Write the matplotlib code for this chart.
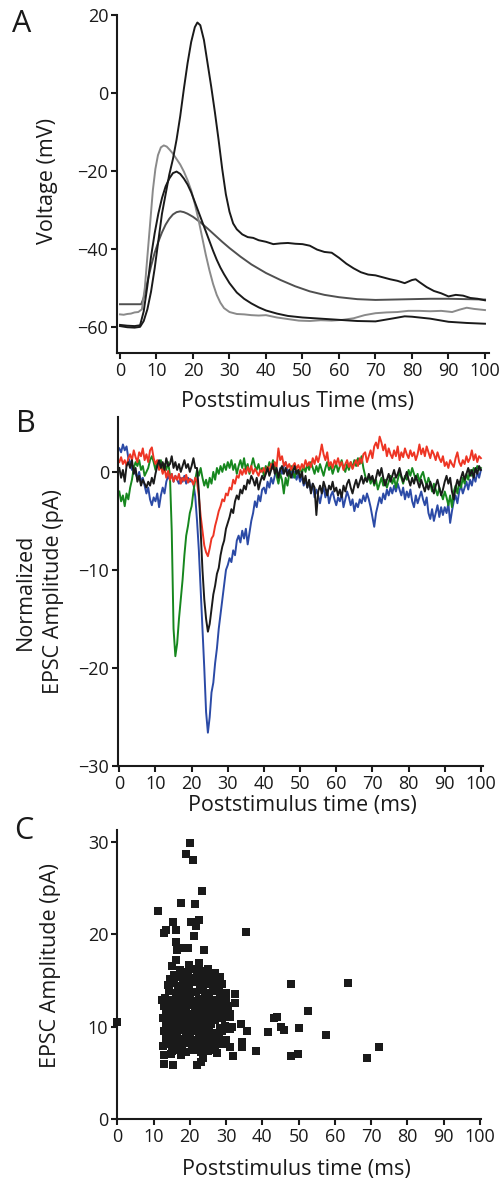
"""Three-panel figure: voltage traces, normalized EPSCs and EPSC latency scatter."""

import matplotlib
import numpy as np

matplotlib.use("Agg")
from matplotlib import pyplot as plt

plt.rcParams["font.family"] = ["Open Sans", "DejaVu Sans"]

# ---- panel A: membrane voltage traces (ms, mV) ----
spike_t = [0, 2, 4, 5.5, 6.5, 7.5, 8.5, 9.5, 10.5, 11.5, 12.5, 13.5, 14.5, 15.5, 16.5,
           17.5, 18.5, 19.5, 20.5, 21.2, 22.0, 23.0, 24.0, 25.0, 26.0, 27.0, 28.0, 29.0,
           30.0, 31.0, 32.0, 33.5, 35, 36.5, 38, 40, 42, 44, 46, 48, 50, 52, 54, 56, 58,
           60, 62, 64, 66, 68, 70, 72, 74, 76, 78, 80, 81, 82, 84, 86, 88, 90, 92, 94,
           96, 98, 100]
spike_v = [-59.8, -60.1, -60.2, -60.0, -58.5, -55.5, -51, -45, -38, -31, -26, -21, -17,
           -12, -6, 1, 7.5, 13, 16.8, 18.0, 17.3, 13.5, 7.5, 1.5, -5, -12, -19.5, -26,
           -30.5, -33.5, -35, -36.3, -37, -37.2, -37.8, -38.2, -38.8, -38.6, -38.5, -38.7,
           -38.8, -39.2, -40.2, -40.8, -41, -42.3, -43.8, -45, -46, -46.6, -46.8, -47.3,
           -47.8, -48.2, -48.8, -48, -47.8, -48.5, -49.8, -50.8, -51.4, -52.2, -51.8, -52,
           -52.6, -52.8, -53.2]

sub_t = [0, 2, 4, 5.5, 6.5, 7.5, 8.5, 9.5, 10.5, 11.5, 12.5, 13.5, 14.5, 15.5, 16.5,
         17.5, 18.5, 19.5, 20.5, 21.5, 22.5, 23.5, 24.5, 25.5, 26.5, 27.5, 28.5, 30, 32,
         34, 36, 38, 40, 43, 46, 50, 55, 60, 65, 70, 75, 78, 80, 85, 90, 95, 100]
sub_v = [-59.5, -59.7, -59.8, -59.6, -56, -49.5, -42, -36, -31, -27, -24, -22, -20.6,
         -20.2, -20.8, -22, -23.5, -25.5, -28, -30.5, -33, -35.5, -38, -40.5, -42.8, -44.8,
         -46.5, -48.8, -51.2, -52.8, -54, -55, -55.8, -56.6, -57.2, -57.6, -57.9, -58.2,
         -58.5, -58.6, -57.8, -57.3, -57.4, -57.9, -58.7, -59.0, -59.2]

slow_t = [0, 3, 5.8, 6.5, 7.5, 8.5, 9.5, 10.5, 11.5, 12.5, 13.5, 14.5, 15.5, 16.5, 17.5,
          18.5, 20, 22, 24, 26, 28, 30, 33, 36, 40, 44, 48, 52, 56, 60, 65, 70, 75, 80,
          85, 90, 95, 100]
slow_v = [-54.2, -54.2, -54.2, -52.5, -48.5, -44.5, -41, -38.2, -35.8, -33.8, -32.3,
          -31.2, -30.6, -30.4, -30.6, -31.0, -31.8, -33.2, -34.8, -36.5, -38.2, -39.8,
          -42.0, -44.0, -46.2, -48.0, -49.6, -50.9, -51.8, -52.4, -52.9, -53.1, -53.0,
          -52.9, -52.8, -52.8, -52.9, -53.0]

fast_t = [0, 1, 2, 3, 4, 5, 6, 6.8, 7.5, 8.3, 9.0, 9.7, 10.4, 11.2, 12.0, 12.8, 13.6,
          14.5, 15.5, 16.5, 17.5, 18.5, 19.5, 20.5, 21.5, 22.5, 23.5, 24.5, 25.5, 26.5,
          27.5, 28.5, 30, 32, 34, 36, 38, 40, 43, 46, 49, 52, 55, 58, 61, 64, 67, 70, 73,
          76, 79, 82, 85, 88, 91, 93, 95, 97, 100]
fast_v = [-56.8, -56.9, -56.7, -56.6, -56.3, -56.2, -55.5, -50, -42, -33, -25, -19.5, -16,
          -14, -13.5, -13.8, -14.6, -15.6, -17.0, -18.4, -20.2, -22.4, -25.0, -28.5, -32.5,
          -37, -41.5, -45.5, -49, -51.8, -53.8, -55.2, -56.2, -56.7, -56.8, -57.0, -57.1,
          -57.0, -57.6, -58.0, -58.4, -58.5, -58.3, -58.4, -58.2, -57.8, -57.0, -56.5,
          -56.3, -56.2, -55.9, -55.9, -56.0, -55.9, -56.2, -55.6, -55.1, -55.4, -55.7]

# ---- panel B: normalized EPSCs, sampled every 0.5 ms from 0 to 100 ms ----
epsc_t = np.arange(0, 100.5, 0.5)
epsc_red = [
    1.0, 1.5, 0.8, 1.2, 0.6, 1.4, 1.8, 1.2, 2.2, 1.5, 1.0, 2.0, 1.6, 2.4, 1.2, 1.8, 1.0, 2.2, 2.5, 1.4,
    0.8, 1.2, 0.2, 0.6, -0.2, 0.4, -0.6, 0.1, -0.8, -0.2, -1.0, -0.4, -0.8, -0.2, -1.2, -0.6, -0.9, -0.3, -1.1, -0.7,
    -0.9, -1.3, -0.6, -1.0, -2.5, -4.5, -6.0, -7.5, -8.2, -8.6, -7.8, -6.8, -6.5, -5.5, -4.8, -4.0, -3.5, -2.8, -3.0, -2.2,
    -2.4, -1.6, -1.8, -0.8, -1.2, -0.4, -0.6, 0.2, -0.3, 0.3, -0.2, 0.5, 0.0, 0.6, -0.2, 0.3, 0.0, -0.4, 0.2, 0.0,
    0.4, -0.2, 0.5, 0.1, 0.8, 0.3, 1.0, 0.5, 2.4, 1.2, 1.6, 0.6, 1.0, 0.4, 0.8, 0.2, 0.6, 0.9, 0.3, 0.7,
    0.2, 0.8, 0.4, 1.2, 0.6, 1.0, 0.5, 1.4, 0.8, 1.6, 1.0, 1.8, 2.8, 1.8, 1.2, 2.0, 0.6, 1.0, 0.4, 1.2,
    0.8, 1.4, 0.6, 1.0, 0.2, 0.8, 1.2, 0.5, 1.0, 0.3, 0.8, 1.2, 0.6, 1.4, 0.9, 1.8, 2.0, 1.0, 1.6, 2.2,
    1.4, 2.6, 3.0, 2.4, 3.6, 3.0, 2.2, 2.8, 1.6, 2.4, 1.8, 1.4, 2.2, 1.6, 2.6, 1.2, 2.0, 1.5, 2.4, 1.8,
    1.4, 2.2, 1.6, 2.0, 1.2, 1.8, 2.8, 1.8, 2.4, 1.6, 2.6, 2.0, 1.4, 2.2, 1.8, 1.2, 2.0, 1.4, 1.0, 1.6,
    0.6, 1.0, 0.4, 1.2, 0.8, 0.5, 1.4, 2.0, 1.0, 0.6, 1.2, 0.8, 1.6, 1.0, 1.4, 2.2, 1.2, 1.8, 1.0, 1.6,
    1.4,
]
epsc_green = [
    -2.0, -3.0, -2.4, -3.5, -2.2, -2.8, -1.6, -0.8, 0.4, 1.0, 0.6, 1.2, 0.2, 0.6, -0.4, 0.0, 0.4, 1.2, 1.6, 1.0,
    0.2, 1.0, 0.4, 1.2, 0.0, 0.8, 0.2, 1.0, -0.3, -6.0, -16.0, -18.8, -17.5, -15.0, -13.0, -11.0, -8.5, -6.5, -5.5, -4.2,
    -3.5, -2.0, -0.8, 0.2, -0.4, 0.4, -0.6, -1.4, -0.8, -1.6, -0.6, -1.2, 0.0, -0.8, 0.4, -0.2, 0.6, 0.0, 0.8, 0.2,
    1.0, 0.4, 1.2, 0.2, 0.8, -0.2, 0.6, 1.2, 0.4, 1.4, 0.2, 0.8, -0.2, 0.6, 1.4, 0.6, 0.2, 0.8, 0.0, 0.4,
    -0.4, 0.6, 0.2, 1.0, 0.4, 1.2, 0.6, -0.4, -1.2, -0.2, -0.8, -2.2, -0.6, -1.4, -0.2, 0.6, 0.0, -0.6, 0.2, -0.2,
    0.4, -0.2, 0.6, 0.0, 0.8, 0.2, 1.0, 0.4, -0.2, 0.6, 0.0, 0.8, 0.2, -0.4, 0.4, 1.0, 0.2, 0.6, -0.2, 0.4,
    0.8, 0.0, 0.6, 1.2, 0.4, 0.0, 0.8, 0.2, 1.0, 0.4, 1.2, 0.6, 1.4, 0.8, 1.6, 0.4, -0.4, -1.0, -0.4, -1.2,
    -0.6, -1.4, -0.8, -1.8, -1.2, -0.6, -1.4, -0.8, -1.6, -1.0, -0.4, -1.2, -0.6, -1.6, -0.8, 0.0, -0.6, -1.2, -0.4, -0.8,
    0.2, -0.4, 0.4, -0.2, -0.8, -0.2, -1.0, -0.4, 0.0, -0.8, -1.4, -0.6, -1.2, -2.0, -1.2, -1.8, -2.4, -1.6, -2.2, -2.8,
    -2.0, -2.6, -3.4, -2.4, -3.6, -2.0, -1.4, -2.2, -1.0, -1.6, -0.6, -1.2, -0.2, -0.8, 0.2, -0.4, 0.4, 0.0, 0.6, 0.2,
    0.4,
]
epsc_blue = [
    2.4, 2.0, 2.8, 2.2, 2.6, 1.4, 1.0, 0.2, 0.6, -0.2, -0.6, 0.0, -1.0, -0.6, -1.4, -2.2, -1.6, -2.8, -3.4, -2.6,
    -3.0, -2.2, -3.6, -2.4, -1.6, -2.2, -1.0, -0.4, -0.8, -0.2, -1.0, -0.4, -0.8, -1.2, -0.6, -1.0, -0.4, -1.2, -0.6, -1.0,
    -0.8, -1.2, -2.5, -5.0, -8.0, -12.0, -16.0, -20.0, -24.5, -26.6, -25.0, -22.5, -21.5, -19.5, -18.0, -16.0, -14.5, -13.0, -11.5, -10.0,
    -9.5, -8.8, -9.2, -8.0, -8.5, -7.0, -6.5, -7.2, -6.0, -6.8, -5.8, -7.4, -6.2, -5.0, -4.2, -3.0, -3.6, -2.4, -3.0, -1.8,
    -1.6, -2.2, -1.0, -1.6, -0.6, -1.2, -0.4, 0.2, -0.6, 0.4, -0.2, 0.6, 1.0, 0.2, -0.4, 0.4, -0.6, 0.0, -0.8, -0.2,
    -1.0, -0.4, -1.4, -0.8, -1.6, -1.0, -2.0, -1.2, -2.6, -1.8, -2.4, -3.2, -2.2, -1.6, -2.6, -1.8, -3.2, -2.4, -2.0, -2.8,
    -3.4, -2.6, -3.0, -2.2, -3.6, -2.8, -2.0, -2.6, -3.4, -2.8, -4.0, -3.2, -3.6, -2.8, -3.2, -2.4, -3.0, -2.2, -2.8, -3.6,
    -4.6, -5.6, -4.2, -3.4, -2.6, -3.2, -2.2, -2.8, -1.8, -2.4, -1.6, -2.2, -1.4, -2.0, -1.2, -1.8, -2.4, -1.6, -2.8, -2.0,
    -2.6, -1.8, -3.0, -3.6, -2.4, -3.2, -2.6, -2.0, -2.8, -3.4, -2.6, -4.2, -4.8, -3.8, -5.0, -4.2, -3.4, -4.6, -3.6, -4.4,
    -3.6, -4.2, -3.2, -5.2, -4.0, -3.0, -2.4, -3.2, -2.0, -1.4, -2.2, -1.6, -1.0, -1.8, -0.8, -1.4, -0.4, -1.0, 0.0, -0.6,
    0.2,
]
epsc_black = [
    0.4, -0.6, 0.2, -1.0, 0.6, 1.0, 0.4, 1.2, -0.2, 0.4, -1.0, -0.4, -1.4, -0.8, -1.2, -1.6, -1.0, -1.4, -0.6, -1.2,
    -0.2, 0.6, 1.2, 0.4, 1.0, 0.2, 1.4, 0.6, 0.8, 1.6, 0.4, 1.0, 0.2, 0.8, 0.0, 0.6, 1.2, 0.4, 0.8, 0.0,
    0.6, 1.4, 0.4, 0.4, -2.0, -6.0, -10.0, -13.0, -15.0, -16.3, -15.5, -14.0, -12.5, -11.6, -10.4, -9.8, -8.5, -7.6, -7.0, -5.8,
    -5.2, -4.6, -3.8, -4.2, -3.0, -2.4, -2.8, -1.8, -2.2, -1.4, -1.8, -0.8, -1.2, -0.4, -0.8, -1.4, -0.6, -1.8, -1.0, -0.4,
    -0.8, -0.2, 0.4, -0.4, 0.2, 0.8, -0.2, 0.4, -0.6, 0.2, 0.6, -0.2, 0.4, -0.4, 0.2, -0.6, 0.0, 0.6, -0.2, 0.2,
    -0.6, 0.0, -1.2, -0.4, -1.6, -0.8, -2.2, -1.2, -1.6, -4.4, -2.0, -1.4, -2.2, -1.0, -1.6, -2.4, -1.4, -1.8, -1.0, -2.0,
    -1.6, -2.4, -1.8, -2.6, -1.4, -2.0, -1.2, -0.8, -1.6, -2.2, -1.4, -0.8, -1.6, -1.0, -0.4, -1.2, -0.6, -1.0, -0.2, -0.8,
    -0.4, -1.2, -0.6, 0.2, -0.4, 0.4, -0.6, -1.4, -0.8, -0.2, -1.0, -0.4, 0.2, -0.6, -0.2, 0.4, -0.4, -1.0, -0.6, 0.0,
    -0.8, -1.4, -0.6, -1.2, -0.4, -1.0, -1.6, -0.8, -1.4, -2.0, -1.2, -1.8, -1.0, -1.6, -2.2, -1.4, -0.8, -1.6, -2.4, -1.8,
    -1.0, -0.4, -1.2, -0.6, -2.0, -2.8, -1.6, -0.8, -1.4, -0.6, 0.0, -0.8, -0.2, 0.4, -0.4, 0.2, -0.6, 0.4, -0.2, 0.6,
    0.2,
]

# ---- panel C: EPSC latency (ms) vs amplitude (pA) ----
scatter_time = [
    # sparse events
    0.0, 11.3, 20.0, 18.9, 21.0, 23.3, 17.5, 21.5, 22.5, 20.2, 21.7, 15.4, 13.3, 13.0,
    16.3, 21.2, 35.5, 16.3, 16.5, 17.7, 19.5, 24.0, 16.2, 15.0, 19.7, 22.6, 22.6,
    47.8, 63.6, 52.5, 43.1, 44.0, 45.1, 46.0, 50.1, 41.6, 35.8, 34.0, 38.2, 34.5, 34.4,
    57.5, 47.9, 49.9, 68.8, 72.2, 32.4, 32.5, 30.1, 29.0, 28.3, 26.9, 25.1, 32.0, 31.1,
    27.4, 23.7, 23.2, 21.9, 15.4, 13.0, 12.6, 13.0, 14.8, 17.7, 12.2, 31.1, 31.1,
    # dense core
    17.2, 19.4, 21.1, 23.0, 24.6, 26.1,
    14.6, 16.1, 18.0, 20.3, 22.1, 24.0, 25.6, 27.6,
    13.9, 15.5, 17.3, 19.0, 21.0, 22.8, 24.8, 26.5, 28.1,
    14.2, 16.3, 18.2, 20.0, 21.8, 25.2, 27.0, 29.1,
    13.2, 15.0, 17.0, 19.2, 20.8, 22.6, 24.3, 26.0, 28.2, 30.0,
    12.8, 14.4, 16.2, 18.0, 19.8, 21.5, 23.2, 25.0, 26.8, 28.6, 30.5,
    13.5, 15.3, 17.2, 19.0, 20.6, 22.4, 24.2, 25.8, 27.6, 29.5, 31.2,
    12.7, 14.5, 16.4, 18.2, 20.0, 21.7, 23.4, 25.2, 27.0, 29.0, 30.8,
    13.3, 15.2, 17.0, 18.8, 20.5, 22.3, 24.0, 25.8, 29.6, 31.5,
    12.8, 14.6, 16.5, 18.3, 20.0, 21.8, 23.6, 25.4, 27.2, 29.0,
    13.4, 15.3, 17.2, 19.0, 20.8, 22.6, 24.4, 26.2, 28.0, 30.0,
    13.8, 15.8, 17.8, 19.6, 21.4, 23.2, 25.0, 26.8, 28.8,
    15.0, 17.0, 19.0, 21.0, 23.0, 25.0, 27.0,
    # in-between fill of the core
    15.6, 18.4, 21.9, 24.9, 27.3, 16.8, 19.9, 23.5, 26.3, 29.4,
    14.1, 17.6, 20.9, 24.6, 27.9, 15.0, 18.6, 22.1, 25.9, 29.9,
    14.9, 18.0, 21.2, 24.8, 28.3, 16.0, 19.7, 23.3, 26.5, 14.2,
    17.5, 20.6, 24.1,
]
scatter_amp = [
    10.55, 22.5, 29.9, 28.7, 28.0, 24.7, 23.4, 23.3, 21.6, 21.3, 20.9, 21.3, 20.5, 20.1,
    20.5, 19.8, 20.2, 19.2, 18.3, 18.5, 18.5, 18.3, 17.2, 16.6, 16.7, 16.9, 16.3,
    14.6, 14.7, 11.7, 10.9, 11.1, 10.0, 9.6, 9.9, 9.4, 9.5, 10.3, 7.4, 7.8, 8.3,
    9.1, 6.8, 7.0, 6.6, 7.8, 13.5, 12.6, 13.7, 14.6, 15.4, 15.8, 16.2, 6.8, 7.8,
    7.1, 6.6, 6.2, 5.8, 5.9, 6.0, 7.9, 6.9, 7.0, 6.9, 12.9, 9.8, 11.1,
    16.1, 15.9, 16.2, 15.8, 16.0, 15.7,
    15.2, 15.4, 15.1, 15.3, 15.0, 15.4, 15.1, 15.2,
    14.5, 14.7, 14.4, 14.6, 14.8, 14.5, 14.6, 14.3, 14.5,
    13.9, 13.7, 13.9, 13.6, 13.8, 13.7, 13.9, 13.6,
    13.1, 12.9, 13.0, 13.2, 12.8, 13.0, 13.1, 12.9, 13.0, 12.8,
    12.2, 12.4, 12.3, 12.1, 12.4, 12.2, 12.3, 12.4, 12.1, 12.3, 12.2,
    11.6, 11.7, 11.5, 11.7, 11.4, 11.6, 11.7, 11.5, 11.6, 11.7, 11.4,
    10.9, 11.0, 10.8, 10.9, 11.1, 10.8, 10.9, 11.0, 10.7, 10.9, 11.0,
    10.2, 10.3, 10.1, 10.3, 10.2, 10.0, 10.2, 10.3, 10.1, 10.0,
    9.5, 9.6, 9.4, 9.6, 9.3, 9.5, 9.6, 9.4, 9.3, 9.5,
    8.8, 8.9, 8.7, 8.9, 8.6, 8.8, 8.9, 8.7, 8.8, 8.6,
    8.1, 8.2, 8.0, 8.2, 8.0, 8.1, 8.2, 8.0, 8.1,
    7.4, 7.5, 7.3, 7.5, 7.3, 7.4, 7.5,
    15.6, 15.7, 15.5, 15.5, 14.9, 14.1, 14.2, 14.0, 14.1, 13.3,
    12.6, 12.7, 12.6, 12.8, 12.7, 11.2, 11.3, 11.2, 11.4, 11.3,
    9.9, 9.8, 9.9, 9.8, 9.9, 8.4, 8.5, 8.4, 8.4, 9.2,
    7.8, 7.7, 7.8,
]

time_ticks = list(range(0, 101, 10))

W, H = 501, 1183
INK = "#1a1a1a"

fig = plt.figure(figsize=(W / 100, H / 100), dpi=100)


def _axes(left, top, right, bottom):
    return fig.add_axes([left / W, 1 - bottom / H, (right - left) / W, (bottom - top) / H])


def _style(ax):
    for side in ("top", "right"):
        ax.spines[side].set_visible(False)
    for side in ("left", "bottom"):
        ax.spines[side].set_linewidth(1.5)
        ax.spines[side].set_color(INK)
    ax.tick_params(direction="out", length=4, width=1.5, labelsize=13, pad=2.5,
                   color=INK, labelcolor=INK)
    ax.set_xticks(time_ticks)


def _text(x, y, s, **kw):
    fig.text(x / W, 1 - y / H, s, color=INK, **kw)


# A
ax = _axes(117.3, 14.7, 489, 353)
ax.plot(slow_t, slow_v, color="#505050", lw=1.4)
ax.plot(fast_t, fast_v, color="#8a8a8a", lw=1.4)
ax.plot(sub_t, sub_v, color=INK, lw=1.4)
ax.plot(spike_t, spike_v, color=INK, lw=1.4)
ax.set_xlim(-0.74, 101.1)
ax.set_ylim(-66.7, 20)
ax.set_yticks([-60, -40, -20, 0, 20])
_style(ax)

# B
ax = _axes(118, 417, 482.7, 766)
ax.plot(epsc_t, epsc_blue, color="#2b4aa6", lw=1.4)
ax.plot(epsc_t, epsc_green, color="#16871e", lw=1.4)
ax.plot(epsc_t, epsc_red, color="#ee3524", lw=1.4)
ax.plot(epsc_t, epsc_black, color=INK, lw=1.4)
ax.set_xlim(-0.36, 100.5)
ax.set_ylim(-30, 5.6)
ax.set_yticks([-30, -20, -10, 0])
_style(ax)

# C
ax = _axes(117.3, 830, 481, 1119)
ax.plot(scatter_time, scatter_amp, "s", color=INK, ms=5.2, mew=0, clip_on=False)
ax.set_xlim(0, 100.3)
ax.set_ylim(0, 31.3)
ax.set_yticks([0, 10, 20, 30])
_style(ax)

label_kw = dict(fontsize=15.5, ha="center", va="center")
_text(297.6, 402, "Poststimulus Time (ms)", **label_kw)
_text(302, 805, "Poststimulus time (ms)", **label_kw)
_text(296, 1170, "Poststimulus time (ms)", **label_kw)
_text(47.5, 181, "Voltage (mV)", rotation=90, **label_kw)
_text(25, 592, "Normalized", rotation=90, **label_kw)
_text(54, 592, "EPSC Amplitude (pA)", rotation=90, **label_kw)
_text(51, 966, "EPSC Amplitude (pA)", rotation=90, **label_kw)

for letter, x, y in (("A", 12, 32), ("B", 16, 432), ("C", 14, 839)):
    _text(x, y, letter, fontsize=22, ha="left", va="baseline")

fig.savefig("out.png", dpi=100)
